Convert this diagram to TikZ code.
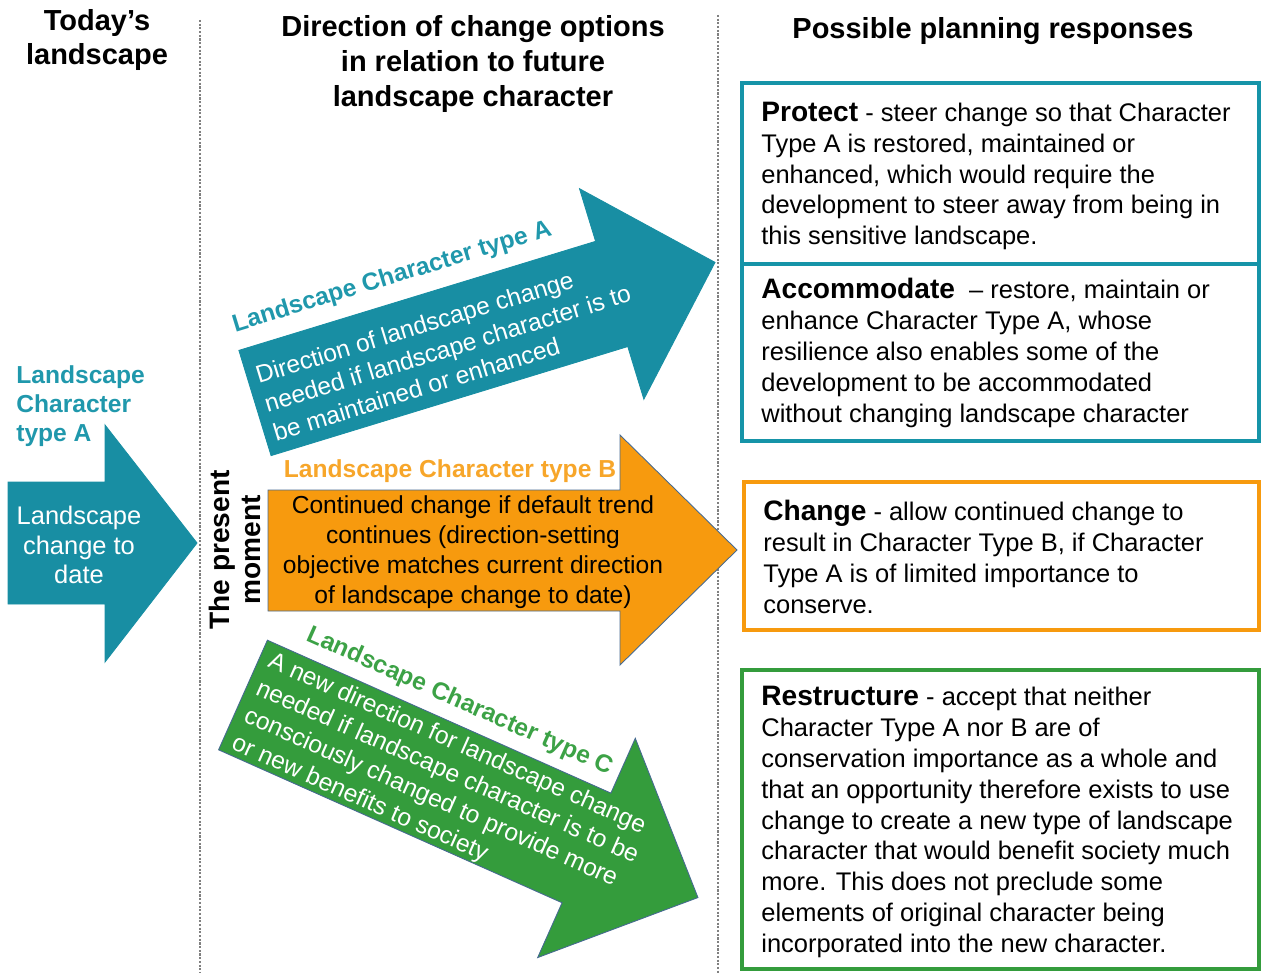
\documentclass[tikz,border=0pt]{standalone}
\usepackage{fontspec}
\setmainfont{Liberation Sans}
\usepackage{xcolor}
\usepackage{tikz}

\definecolor{lcteal}{RGB}{24,142,163}
\definecolor{lctealtext}{RGB}{32,152,172}
\definecolor{lctealbox}{RGB}{22,148,168}
\definecolor{lcorange}{RGB}{247,154,14}
\definecolor{lcorangetext}{RGB}{247,166,42}
\definecolor{lcgreen}{RGB}{52,156,60}
\definecolor{lcgreentext}{RGB}{60,162,70}
\definecolor{lcedge}{RGB}{70,106,145}

\newcommand{\arrowfont}{\fontsize{14}{17}\selectfont}
\newcommand{\labelfont}{\fontsize{14}{16.5}\selectfont\bfseries}
\newcommand{\respfont}{\fontsize{14.5}{17.6}\selectfont}
\newcommand{\headfont}{\fontsize{16.5}{19.8}\selectfont\bfseries}
\newcommand{\momentfont}{\fontsize{16}{18.1}\selectfont\bfseries}
\newcommand{\resphead}[1]{{\fontsize{16}{17.6}\selectfont\bfseries #1}}

\begin{document}
\begin{tikzpicture}[x=0.02cm, y=-0.02cm,
  every node/.style={inner sep=0pt},
  blockarrow/.style={draw=lcedge, line width=0.5pt},
  arrowtext/.style={font=\arrowfont, text=white},
  arrowlabel/.style={font=\labelfont},
  respbox/.style={line width=0.08cm},
  resptext/.style={font=\respfont, anchor=west, align=left},
  divider/.style={gray, line width=0.6pt, dash pattern=on 1.2pt off 0.9pt},
  colhead/.style={font=\headfont, align=center}]
  \useasboundingbox (0,0) rectangle (1262,973);

  % column dividers and headings
  \draw[divider] (200,20) -- (200,973);
  \draw[divider] (718,15) -- (718,973);
  \node[colhead] (headtoday) at (97,40) {Today’s\\landscape};
  \node[colhead] (headdir) at (473,64) {Direction of change options\\in relation to future\\landscape character};
  \node[colhead] (headresp) at (993,31) {Possible planning responses};

  % today's landscape
  \draw[blockarrow, fill=lcteal, draw=lcteal] (8,482) -- (105,482) -- (105,425) -- (197,543)
    -- (105,662) -- (105,604) -- (8,604) -- cycle;
  \node[arrowlabel, text=lctealtext, align=left, anchor=west] (labeltoday) at (16,406) {Landscape\\Character\\type A};
  \node[arrowtext, font=\fontsize{14.5}{16.8}\selectfont, align=center] (texttoday) at (79,545) {Landscape\\change to\\date};
  \node[font=\momentfont, align=center, rotate=90] (moment) at (235,550) {The present\\moment};

  % type A
  \begin{scope}[shift={(255,403)}, rotate=17, transform shape]
    \draw[blockarrow, fill=lcteal, draw=lcteal] (0,-55) -- (373,-55) -- (373,-110) -- (481,0)
      -- (373,110) -- (373,55) -- (0,55) -- cycle;
    \node[arrowlabel, text=lctealtext] (labela) at (168,-80) {Landscape Character type A};
    \node[arrowtext, align=left, anchor=west] (texta) at (9,4) {Direction of landscape change\\needed if landscape character is to\\be maintained or enhanced};
  \end{scope}

  % type B
  \draw[blockarrow, fill=lcorange] (268,490) -- (620,490) -- (620,435) -- (737,550)
    -- (620,665) -- (620,611) -- (268,611) -- cycle;
  \node[arrowlabel, text=lcorangetext] (labelb) at (450,471) {Landscape Character type B};
  \node[font=\arrowfont, align=center] (textb) at (473,552) {Continued change if default trend\\continues (direction-setting\\objective matches current direction\\of landscape change to date)};

  % type C
  \begin{scope}[shift={(243,695)}, rotate=-24, transform shape]
    \draw[blockarrow, fill=lcgreen] (0,-60) -- (376,-60) -- (376,-120) -- (498,0)
      -- (376,120) -- (376,60) -- (0,60) -- cycle;
    \node[arrowlabel, text=lcgreentext] (labelc) at (201,-82) {Landscape Character type C};
    \node[arrowtext, align=left, anchor=west] (textc) at (10,3) {A new direction for landscape change\\needed if landscape character is to be\\consciously changed to provide more\\or new benefits to society};
  \end{scope}

  % planning responses
  \draw[respbox, draw=lctealbox] (742,83) rectangle (1259,441);
  \draw[respbox, draw=lctealbox] (742,264) -- (1259,264);
  \draw[respbox, draw=lcorange] (744,482) rectangle (1259,630);
  \draw[respbox, draw=lcgreen, line width=0.065cm] (742,670) rectangle (1259,969);
  \node[resptext] (protect) at (761,176) {\resphead{Protect} - steer change so that Character\\Type A is restored, maintained or\\enhanced, which would require the\\development to steer away from being in\\this sensitive landscape.};
  \node[resptext] (accommodate) at (761,353) {\resphead{Accommodate}\ \ – restore, maintain or\\enhance Character Type A, whose\\resilience also enables some of the\\development to be accommodated\\without changing landscape character};
  \node[resptext] (change) at (763,557) {\resphead{Change} - allow continued change to\\result in Character Type B, if Character\\Type A is of limited importance to\\conserve.};
  \node[resptext] (restructure) at (761,822) {\resphead{Restructure} - accept that neither\\Character Type A nor B are of\\conservation importance as a whole and\\that an opportunity therefore exists to use\\change to create a new type of landscape\\character that would benefit society much\\more. This does not preclude some\\elements of original character being\\incorporated into the new character.};
\end{tikzpicture}
\end{document}
